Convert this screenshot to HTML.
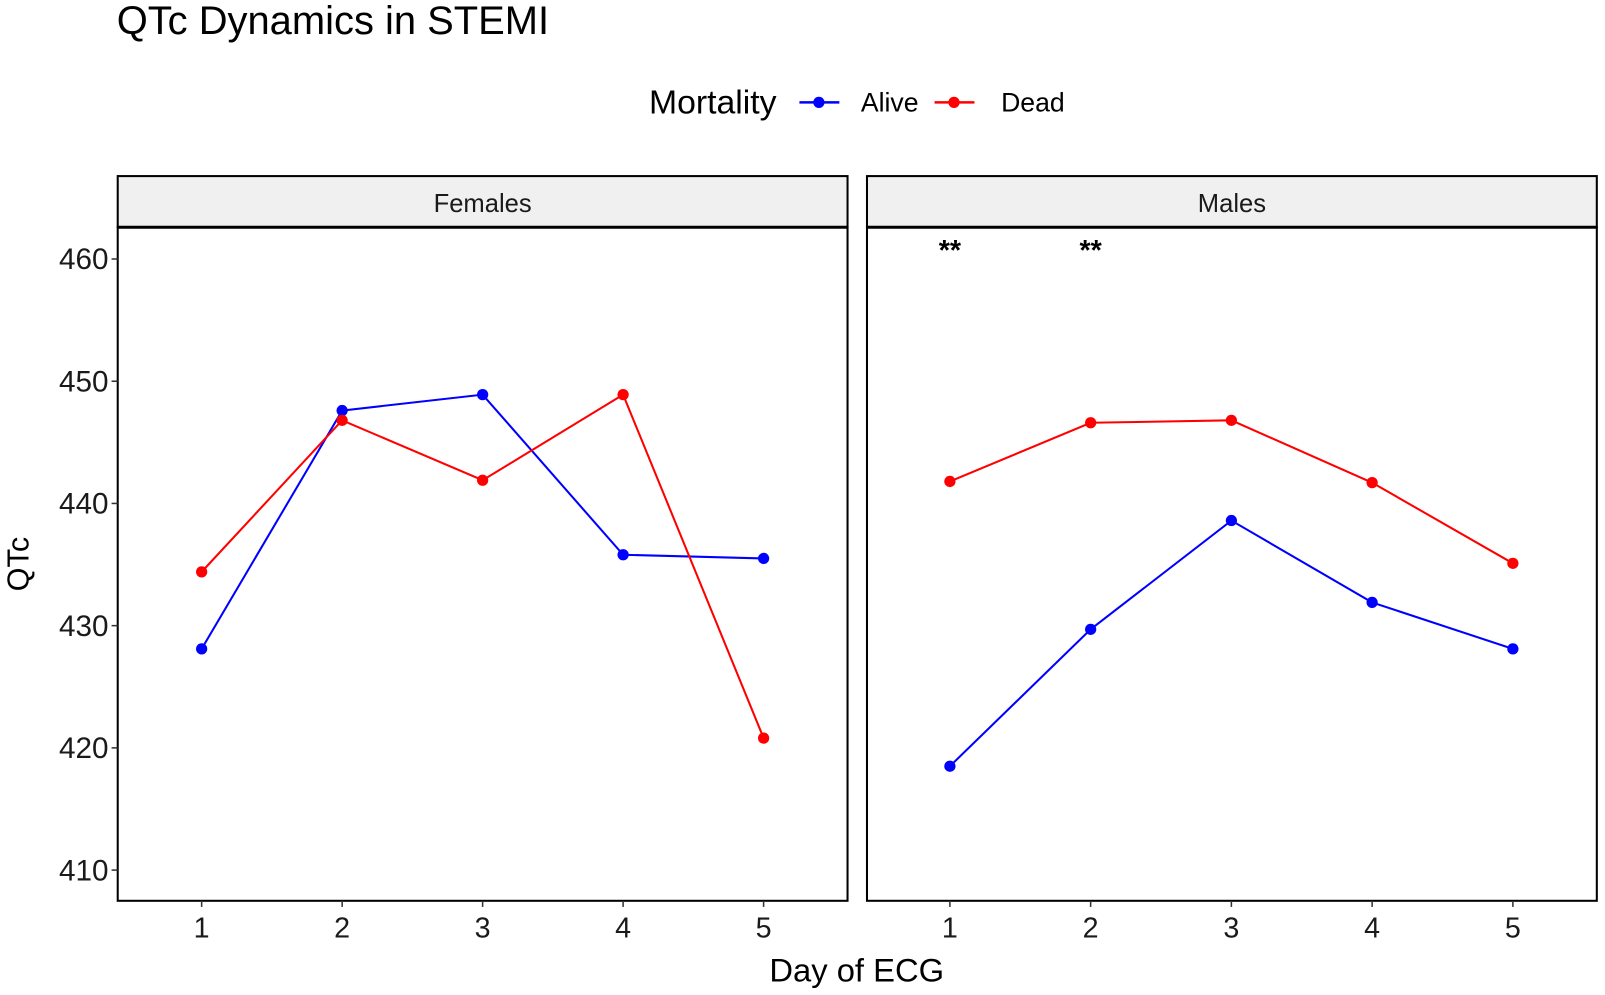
<!DOCTYPE html>
<html><head><meta charset="utf-8"><style>
html,body{margin:0;padding:0;background:#fff;}
svg{display:block;font-family:"Liberation Sans",Arial,sans-serif;}
</style></head><body>
<svg id="chart" width="1605" height="995" viewBox="0 0 1568 972" xmlns="http://www.w3.org/2000/svg">
<rect width="1568" height="972" fill="#fff"/>
<text x="114" y="33" font-size="39" fill="#000">QTc Dynamics in STEMI</text>
<g>
<text x="634" y="111" font-size="33" fill="#000">Mortality</text>
<g><line x1="781" y1="100" x2="820" y2="100" stroke="#0000ff" stroke-width="2.5"/><circle cx="800" cy="100" r="5.5" fill="#0000ff"/><text x="841" y="109" font-size="26">Alive</text></g>
<g><line x1="913" y1="100" x2="952" y2="100" stroke="#ff0000" stroke-width="2.5"/><circle cx="932" cy="100" r="5.5" fill="#ff0000"/><text x="978" y="109" font-size="26">Dead</text></g>
</g>
<g id="panels"></g>
<text x="837" y="959" font-size="32" text-anchor="middle">Day of ECG</text>
<text transform="translate(28,551) rotate(-90)" font-size="30" text-anchor="middle">QTc</text>
</svg>
<script>
const days = [1, 2, 3, 4, 5];
const yTicks = [410, 420, 430, 440, 450, 460];
const femalesAlive = [428.1, 447.6, 448.9, 435.8, 435.5];
const femalesDead = [434.4, 446.8, 441.9, 448.9, 420.8];
const malesAlive = [418.5, 429.7, 438.6, 431.9, 428.1];
const malesDead = [441.8, 446.6, 446.8, 441.7, 435.1];
const malesSignif = [1, 2];

const NS = "http://www.w3.org/2000/svg";
const root = document.getElementById('panels');
function el(tag, attrs, parent) {
  const e = document.createElementNS(NS, tag);
  for (const k in attrs) e.setAttribute(k, attrs[k]);
  parent.appendChild(e);
  return e;
}
const yScale = v => 253 + (460 - v) * 11.94;
const panelTop = 222, panelBottom = 880, stripTop = 172;
const panels = [
  {name: 'females', label: 'Females', x0: 115, x1: 828, d1: 197, d5: 746, alive: femalesAlive, dead: femalesDead, sig: []},
  {name: 'males', label: 'Males', x0: 847, x1: 1560, d1: 928, d5: 1478, alive: malesAlive, dead: malesDead, sig: malesSignif}
];
panels.forEach((p, pi) => {
  const g = el('g', {}, root);
  
  
  const xs = d => p.d1 + (d - 1) * (p.d5 - p.d1) / 4;
  const strip = el('rect', {x: p.x0, y: stripTop, width: p.x1 - p.x0, height: panelTop - stripTop, fill: '#f0f0f0', stroke: '#000', 'stroke-width': 2}, g);
  
  
  const st = el('text', {x: (p.x0 + p.x1) / 2, y: 207, 'font-size': 25, 'text-anchor': 'middle', fill: '#1a1a1a'}, g);
  st.textContent = p.label;
  
  
  const frame = el('rect', {x: p.x0, y: panelTop, width: p.x1 - p.x0, height: panelBottom - panelTop, fill: 'none', stroke: '#000', 'stroke-width': 2}, g);
  
  
  el('line', {x1: p.x0, y1: panelTop, x2: p.x1, y2: panelTop, stroke: '#000', 'stroke-width': 3}, g);
  days.forEach(d => {
    el('line', {x1: xs(d), y1: panelBottom, x2: xs(d), y2: panelBottom + 6, stroke: '#333', 'stroke-width': 1.5}, g);
    const t = el('text', {x: xs(d), y: panelBottom + 36, 'font-size': 28, 'text-anchor': 'middle', fill: '#1a1a1a'}, g);
    t.textContent = d;
    
    
  });
  if (pi === 0) {
    yTicks.forEach(v => {
      el('line', {x1: p.x0 - 6, y1: yScale(v), x2: p.x0, y2: yScale(v), stroke: '#333', 'stroke-width': 1.5}, g);
      const t = el('text', {x: p.x0 - 9, y: yScale(v) + 10, 'font-size': 29, 'text-anchor': 'end', fill: '#1a1a1a'}, g);
      t.textContent = v;
      
      
    });
  }
  [['alive', p.alive, '#0000ff'], ['dead', p.dead, '#ff0000']].forEach(([sn, vals, col]) => {
    const pts = vals.map((v, i) => xs(days[i]) + ',' + yScale(v)).join(' ');
    const line = el('polyline', {points: pts, fill: 'none', stroke: col, 'stroke-width': 2}, g);
    
    
    vals.forEach((v, i) => {
      const c = el('circle', {cx: xs(days[i]), cy: yScale(v), r: 5.5, fill: col}, g);
      
      
    });
  });
  p.sig.forEach(d => {
    const t = el('text', {x: xs(d), y: 254, 'font-size': 28, 'font-weight': 'bold', 'text-anchor': 'middle', fill: '#000'}, g);
    t.textContent = '**';
    
    
  });
});
</script>
</body></html>
